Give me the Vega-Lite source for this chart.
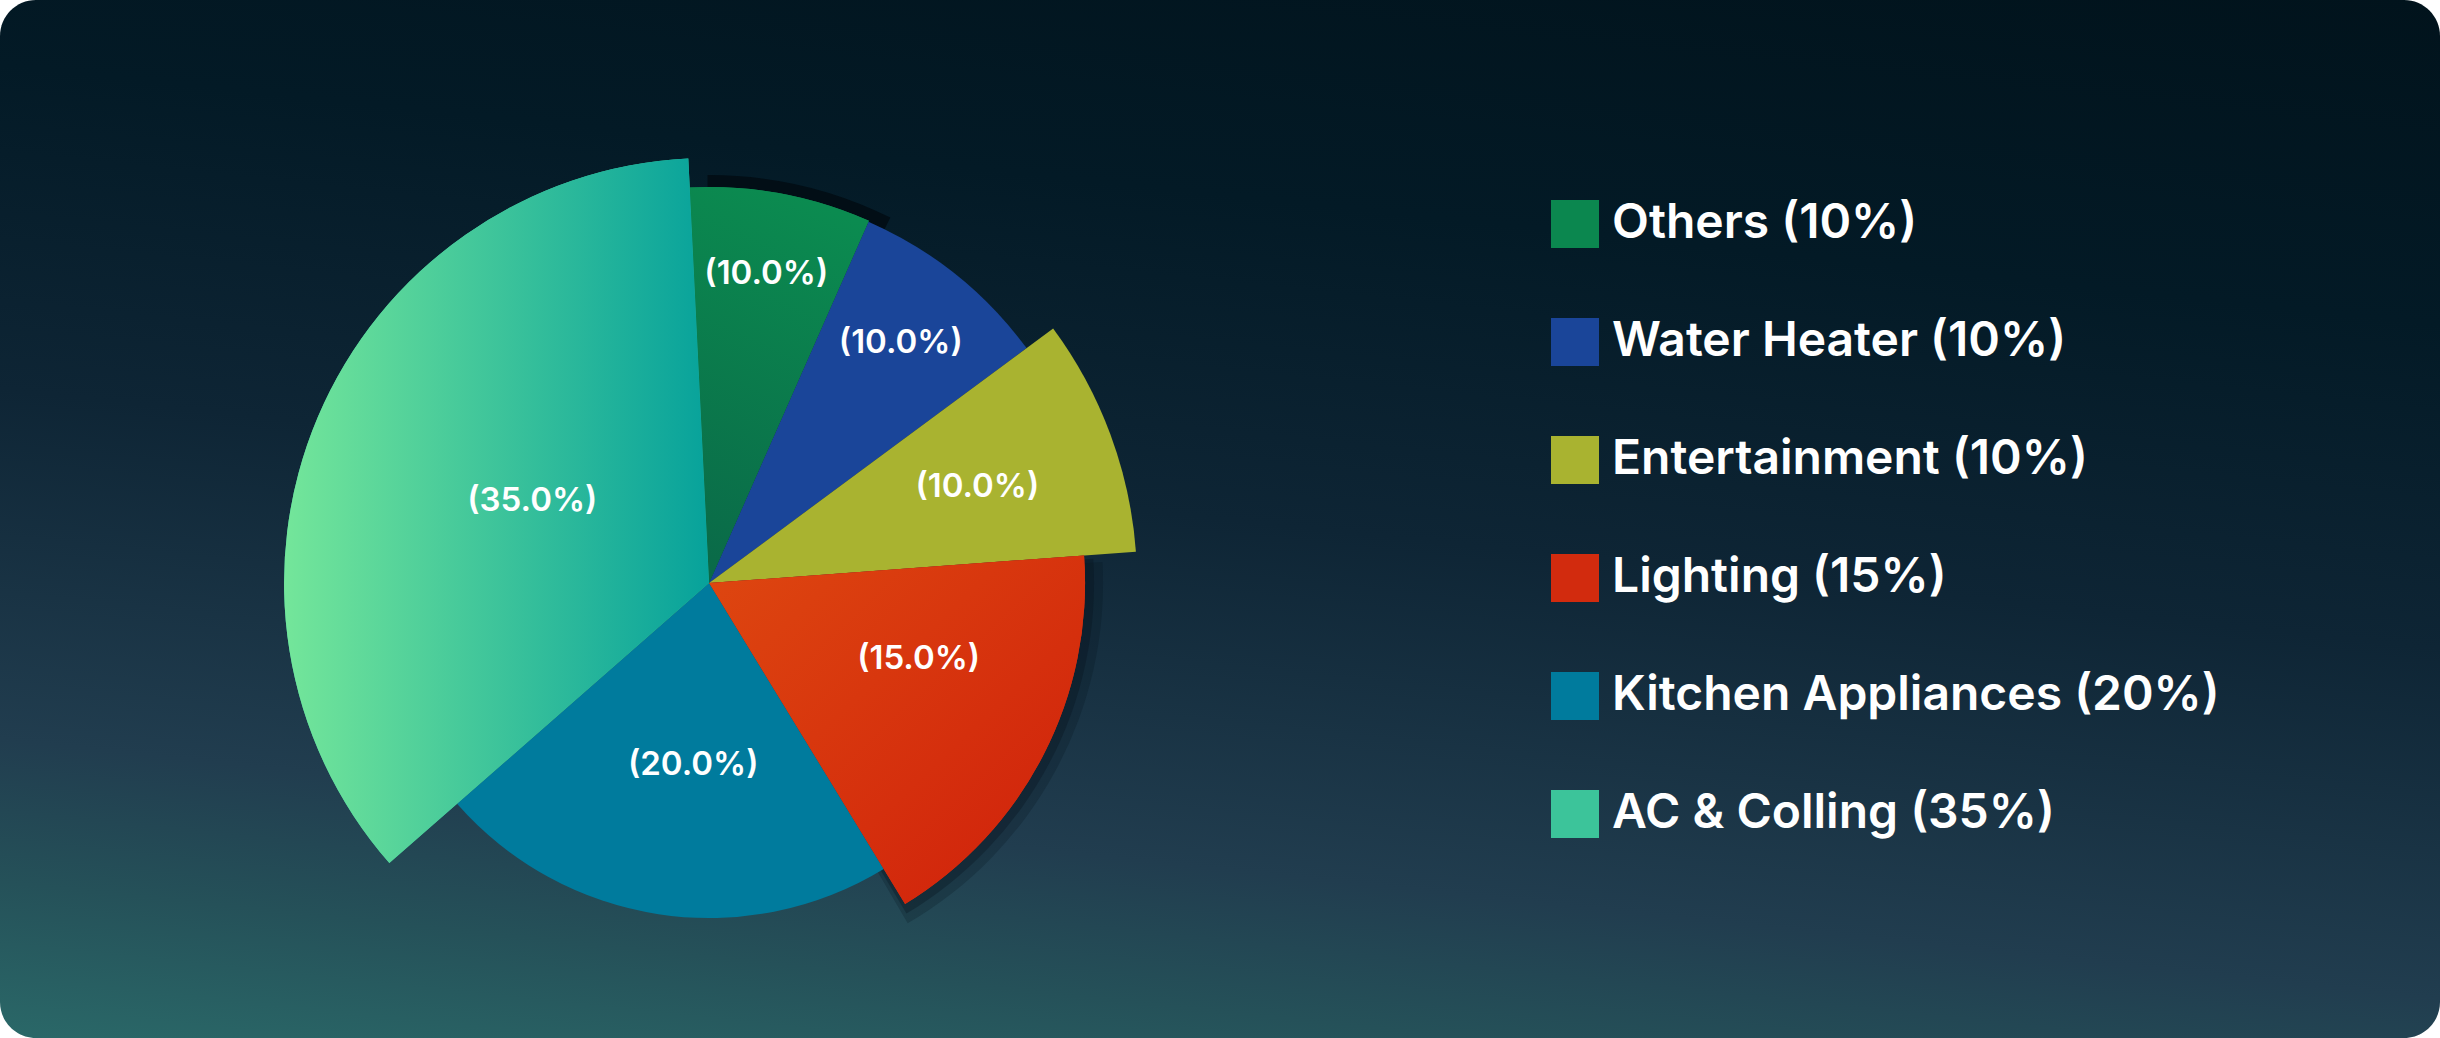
{
  "$schema": "https://vega.github.io/schema/vega-lite/v6.json",
  "width": 2440,
  "height": 1038,
  "padding": 0,
  "autosize": {"type": "none"},
  "background": "#ffffff",
  "view": {
    "stroke": null,
    "cornerRadius": 36,
    "fill": {"expr": "{gradient: 'linear', x1: 1, y1: 0, x2: 0.706, y2: 1.176, stops: [{offset: 0, color: '#01131c'}, {offset: 0.25, color: '#031a26'}, {offset: 0.5, color: '#0e2535'}, {offset: 0.77, color: '#213d4f'}, {offset: 0.88, color: '#255159'}, {offset: 1, color: '#2a6868'}]}"}
  },
  "config": {
    "font": "Inter"
  },
  "data": {
    "values": [
      {"category": "Others", "pct": 10, "share": 7.39, "rank": 1},
      {"category": "Water Heater", "pct": 10, "share": 8.25, "rank": 2},
      {"category": "Entertainment", "pct": 10, "share": 8.97, "rank": 3},
      {"category": "Lighting", "pct": 15, "share": 17.44, "rank": 4},
      {"category": "Kitchen Appliances", "pct": 20, "share": 22.28, "rank": 5},
      {"category": "AC & Colling", "pct": 35, "share": 35.67, "rank": 6}
    ]
  },
  "transform": [
    {"calculate": "datum.category + ' (' + datum.pct + '%)'", "as": "legend_label"},
    {"calculate": "'(' + format(datum.pct, '.1f') + '%)'", "as": "slice_label"}
  ],
  "encoding": {
    "theta": {
      "field": "share",
      "type": "quantitative",
      "stack": true,
      "scale": {"domain": [0, 100], "range": [-0.0489, 6.2343]}
    },
    "order": {"field": "rank", "type": "quantitative"}
  },
  "layer": [
    {
      "mark": {
        "type": "arc",
        "opacity": 0.22,
        "radius": {"expr": "datum.category === 'Lighting' ? 394 : 0"},
        "thetaOffset": 0.02,
        "theta2Offset": 0.035,
        "x": {"expr": "width * 0.2906"},
        "y": {"expr": "height * 0.5617"}
      },
      "encoding": {
        "detail": {"field": "category", "type": "nominal"},
        "fill": {"value": "#06121b"}
      }
    },
    {
      "mark": {
        "type": "arc",
        "opacity": 0.3,
        "radius": {"expr": "datum.category === 'Lighting' ? 385 : 0"},
        "thetaOffset": 0.01,
        "theta2Offset": 0.018,
        "x": {"expr": "width * 0.2906"},
        "y": {"expr": "height * 0.5617"}
      },
      "encoding": {
        "detail": {"field": "category", "type": "nominal"},
        "fill": {"value": "#06121b"}
      }
    },
    {
      "mark": {
        "type": "arc",
        "radius": 408,
        "thetaOffset": 0.045,
        "theta2Offset": 0.025,
        "x": {"expr": "width * 0.2906"},
        "y": {"expr": "height * 0.5617"}
      },
      "encoding": {
        "detail": {"field": "category", "type": "nominal"},
        "fill": {
          "condition": {"test": "datum.category === 'Others'", "value": "#020e16"},
          "value": "transparent"
        }
      }
    },
    {
      "mark": {
        "type": "arc",
        "x": {"expr": "width * 0.2906"},
        "y": {"expr": "height * 0.5617"},
        "radius": {"expr": "datum.category === 'Others' ? 396 : datum.category === 'Water Heater' ? 395 : datum.category === 'Entertainment' ? 428 : datum.category === 'Lighting' ? 376 : datum.category === 'Kitchen Appliances' ? 335 : 425"}
      },
      "encoding": {
        "color": {
          "field": "legend_label",
          "type": "nominal",
          "scale": {
            "domain": ["Others (10%)", "Water Heater (10%)", "Entertainment (10%)", "Lighting (15%)", "Kitchen Appliances (20%)", "AC & Colling (35%)"],
            "range": ["#0b874f", "#1a4599", "#a9b330", "#d22b0e", "#007b9d", "#3cc49a"]
          },
          "legend": {
            "orient": "none",
            "legendX": 1551,
            "legendY": 200,
            "title": null,
            "direction": "vertical",
            "symbolType": "square",
            "symbolSize": 2304,
            "symbolStrokeWidth": 0,
            "symbolOpacity": 1,
            "labelFont": "Inter",
            "labelFontSize": 48,
            "labelFontWeight": 600,
            "labelColor": "#ffffff",
            "labelOffset": 13,
            "labelLimit": 1000,
            "rowPadding": 70,
            "padding": 0
          }
        }
      }
    },
    {
      "mark": {
        "type": "arc",
        "x": {"expr": "width * 0.2906"},
        "y": {"expr": "height * 0.5617"},
        "radius": {"expr": "datum.category === 'Others' ? 396 : datum.category === 'Lighting' ? 376 : 425"},
        "fill": {"expr": "datum.category === 'AC & Colling' ? {gradient: 'linear', x1: 0, y1: 0.5, x2: 1, y2: 0.5, stops: [{offset: 0, color: '#74e69a'}, {offset: 1, color: '#07a29b'}]} : datum.category === 'Others' ? {gradient: 'linear', x1: 0.5, y1: 0, x2: 0.3, y2: 1, stops: [{offset: 0, color: '#0b8b50'}, {offset: 1, color: '#0a6a48'}]} : datum.category === 'Lighting' ? {gradient: 'linear', x1: 0, y1: 0, x2: 1, y2: 1, stops: [{offset: 0, color: '#de4710'}, {offset: 1, color: '#cf1f0b'}]} : 'transparent'"}
      },
      "encoding": {
        "detail": {"field": "category", "type": "nominal"}
      }
    },
    {
      "mark": {
        "type": "text",
        "x": {"expr": "width * 0.2906"},
        "y": {"expr": "height * 0.5617"},
        "radius": {"expr": "datum.category === 'Others' ? 314 : datum.category === 'Water Heater' ? 307 : datum.category === 'Entertainment' ? 285 : datum.category === 'Lighting' ? 223 : datum.category === 'Kitchen Appliances' ? 183 : 195"},
        "thetaOffset": {"expr": "datum.category === 'Lighting' ? -0.126 : datum.category === 'Kitchen Appliances' ? -0.065 : datum.category === 'AC & Colling' ? 0.035 : datum.category === 'Entertainment' ? 0.011 : 0"},
        "font": "Inter",
        "fontSize": 33,
        "fontWeight": 600,
        "fill": "#ffffff",
        "align": "center",
        "baseline": "middle"
      },
      "encoding": {
        "detail": {"field": "category", "type": "nominal"},
        "text": {"field": "slice_label", "type": "nominal"}
      }
    }
  ]
}
